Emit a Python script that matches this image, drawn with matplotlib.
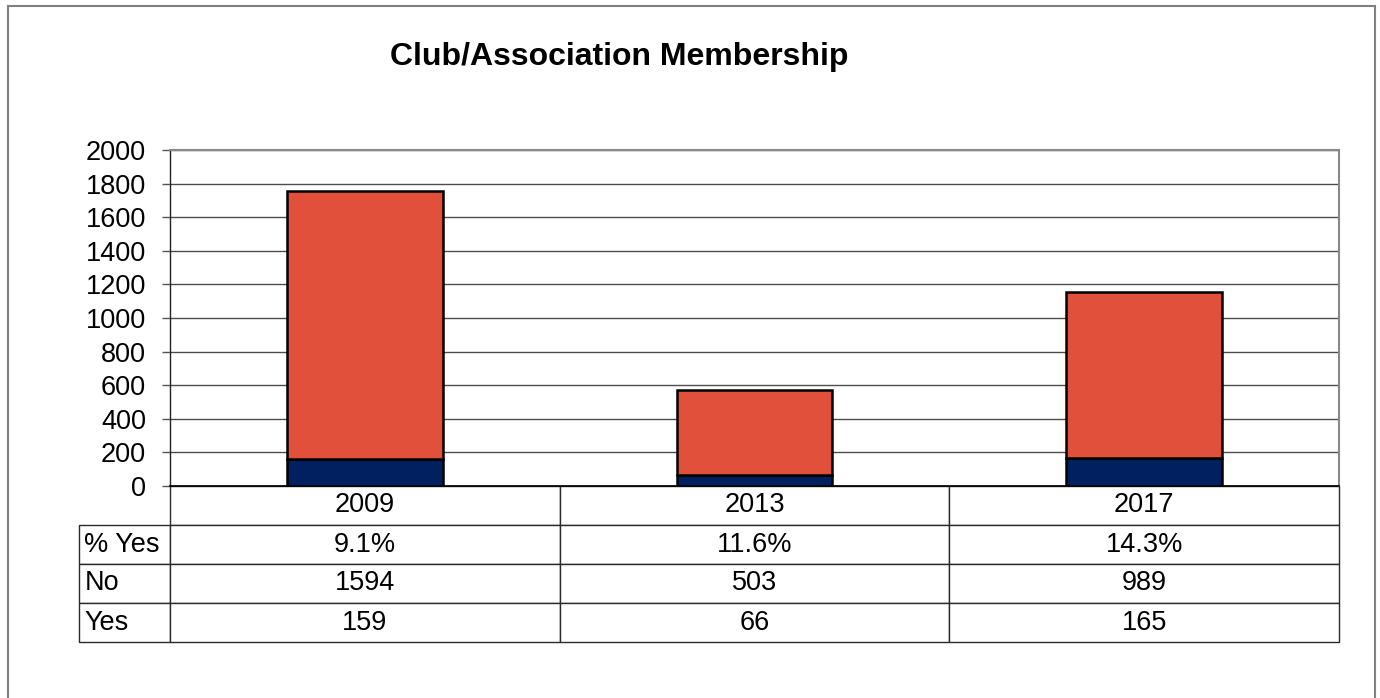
import matplotlib
matplotlib.use('Agg')
import matplotlib.pyplot as plt
from matplotlib.table import Table
from matplotlib.patches import Rectangle

years = ['2009', '2013', '2017']
yes = [159, 66, 165]
no = [1594, 503, 989]
pct_yes = ['%.1f%%' % (100.0 * y / (y + n)) for y, n in zip(yes, no)]

plt.rcParams['font.family'] = ['Liberation Sans', 'DejaVu Sans']

W, H = 1380, 698
fig = plt.figure(figsize=(W / 100, H / 100), dpi=100)

# plot area, in pixels from the top-left corner
left, right, top, bottom = 170, 1339, 150, 486
ax = fig.add_axes([left / W, 1 - bottom / H, (right - left) / W, (bottom - top) / H])

x = range(len(years))
ax.bar(x, yes, width=0.4, color='#002060', edgecolor='black', linewidth=1.8, zorder=3)
ax.bar(x, no, bottom=yes, width=0.4, color='#E0503A', edgecolor='black',
       linewidth=1.8, zorder=3)

ax.set_xlim(-0.5, len(years) - 0.5)
ax.set_ylim(0, 2000)
ax.set_yticks(range(0, 2001, 200))
ax.set_xticks([])
ax.yaxis.grid(True, color='#4d4d4d', linewidth=1)
ax.set_axisbelow(True)

for side in ('top', 'right'):
    ax.spines[side].set_color('#888888')
    ax.spines[side].set_linewidth(1.5)
ax.spines['left'].set_color('#222222')
ax.spines['left'].set_linewidth(1)
ax.spines['bottom'].set_color('black')
ax.spines['bottom'].set_linewidth(1.2)
ax.tick_params(axis='y', direction='out', length=5.8, width=1, color='#555555',
               pad=11.5, labelsize=19.5)

# data table under the bars; sizes in axes units
pw, ph = right - left, bottom - top
tab_left, tab_bottom = 79, 642
n_rows = 4
row_h = (tab_bottom - bottom) / ph / n_rows
col_w = 1.0 / len(years)
lab_w = (left - tab_left) / pw
edge = '#2a2a2a'

tbl = Table(ax, bbox=[0, -row_h * n_rows, 1, row_h * n_rows])
for j, yr in enumerate(years):
    tbl.add_cell(0, j, width=col_w, height=row_h, text=yr, loc='center',
                 edgecolor=edge)

rows = [('% Yes', pct_yes),
        ('No', [str(v) for v in no]),
        ('Yes', [str(v) for v in yes])]
for i, (label, vals) in enumerate(rows, start=1):
    c = tbl.add_cell(i, -1, width=lab_w, height=row_h, text=label, loc='left',
                     edgecolor=edge)
    c.PAD = 0.06
    for j, v in enumerate(vals):
        tbl.add_cell(i, j, width=col_w, height=row_h, text=v, loc='center',
                     edgecolor=edge)

tbl.auto_set_font_size(False)
tbl.set_fontsize(19.5)
for cell in tbl.get_celld().values():
    cell.set_linewidth(1)
ax.add_table(tbl)

fig.text(619 / W, 1 - 57 / H, 'Club/Association Membership', ha='center',
         va='center', fontsize=23, fontweight='bold')

# chart frame
fig.patches.append(Rectangle((8 / W, -0.1), (1375 - 8) / W, 1 - 6 / H + 0.1,
                             transform=fig.transFigure, fill=False,
                             edgecolor='#808080', linewidth=1.5))

fig.savefig('out.png', dpi=100)
